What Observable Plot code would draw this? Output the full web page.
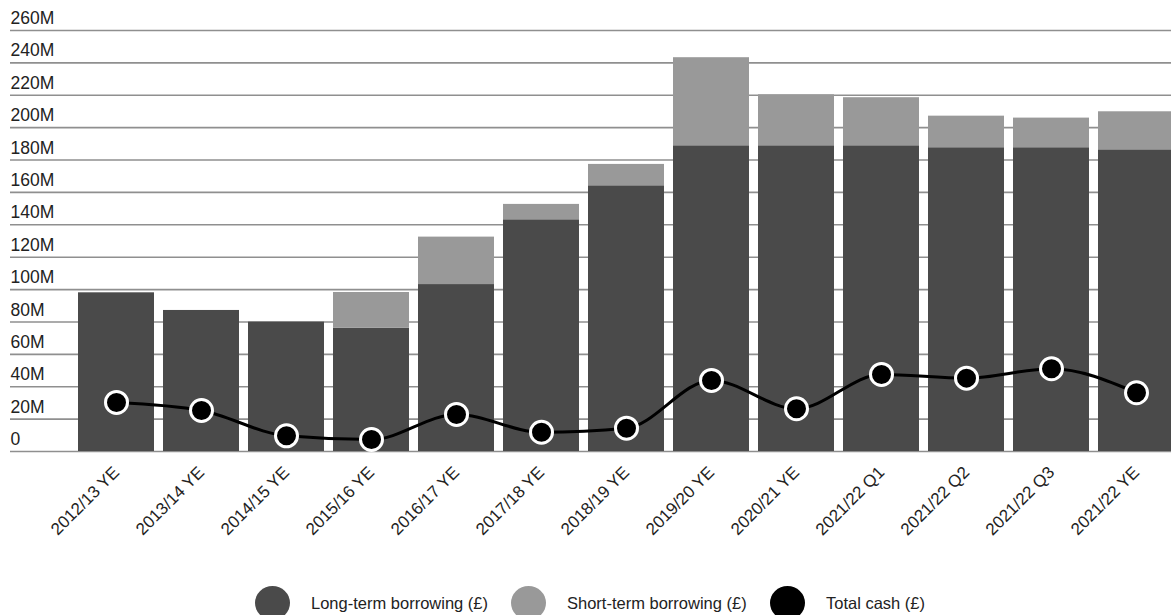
<!DOCTYPE html>
<html>
<head>
<meta charset="utf-8">
<script src="https://cdn.jsdelivr.net/npm/d3@7"></script>
<script src="https://cdn.jsdelivr.net/npm/@observablehq/plot@0.6"></script>
<style>
  html, body { margin: 0; padding: 0; background: #fff; overflow: hidden; width: 1171px; height: 615px; }
  #chart { position: absolute; left: 0; top: 0; }
  #chart svg { overflow: hidden; }
  .legend { position: absolute; top: 586px; left: 0; width: 1171px; height: 34px; font-family: "Liberation Sans", Arial, sans-serif; font-size: 16.5px; color: #222; }
  .item { position: absolute; top: 0; display: flex; align-items: center; height: 34px; }
  .sw { width: 35px; height: 34px; border-radius: 50%; margin-right: 21px; }
</style>
</head>
<body>
<div id="chart"></div>
<div class="legend" id="legend"></div>
<script>
const categories = ["2012/13 YE", "2013/14 YE", "2014/15 YE", "2015/16 YE", "2016/17 YE", "2017/18 YE", "2018/19 YE", "2019/20 YE", "2020/21 YE", "2021/22 Q1", "2021/22 Q2", "2021/22 Q3", "2021/22 YE"];
const longTerm = [98.0, 87.1, 79.9, 76.2, 103.1, 143.1, 164.1, 188.8, 188.8, 188.8, 187.6, 187.6, 186.3];
const shortTerm = [0, 0, 0, 22.0, 29.3, 9.5, 13.2, 54.4, 31.5, 29.7, 19.5, 18.3, 23.5];
const totalCash = [30.3, 25.3, 9.7, 7.4, 22.9, 11.9, 14.4, 43.9, 26.4, 47.6, 45.3, 51.1, 36.3];
const seriesNames = ["Long-term borrowing (£)", "Short-term borrowing (£)", "Total cash (£)"];
const seriesColors = ["#4a4a4a", "#999999", "#000000"];
const yTicks = [0, 20, 40, 60, 80, 100, 120, 140, 160, 180, 200, 220, 240, 260];

const barRows = [];
categories.forEach((c, i) => {
  barRows.push({cat: c, series: seriesNames[0], value: longTerm[i]});
  barRows.push({cat: c, series: seriesNames[1], value: shortTerm[i]});
});
const cashRows = categories.map((c, i) => ({cat: c, value: totalCash[i]}));

const marginLeft = 72.8;
const plot = Plot.plot({
  width: 1171,
  height: 570,
  marginLeft: marginLeft,
  marginRight: -7.6,
  marginTop: 30,
  marginBottom: 119,
  style: {fontFamily: "'Liberation Sans', Arial, sans-serif", fontSize: "17px", color: "#222", background: "#fff"},
  x: {domain: categories, paddingInner: 0.107, paddingOuter: 0.0535, axis: null},
  y: {domain: [0, 260], axis: null},
  color: {domain: seriesNames, range: seriesColors},
  marks: [
    Plot.ruleY(yTicks, {y: d => d, stroke: "#8f8f8f", strokeWidth: 1.6, insetLeft: -(marginLeft - 10)}),
    Plot.text(yTicks, {y: d => d, text: d => d === 0 ? "0" : d + "M", frameAnchor: "left", textAnchor: "start", dx: -(marginLeft - 10), dy: -12, fill: "#222", fontSize: 17.5}),
    Plot.barY(barRows, {x: "cat", y: "value", fill: "series"}),
    Plot.line(cashRows, {x: "cat", y: "value", stroke: "#000", strokeWidth: 3, curve: "monotone-x"}),
    Plot.dot(cashRows, {x: "cat", y: "value", r: 11, fill: "#000", stroke: "#fff", strokeWidth: 3}),
    Plot.axisX({tickRotate: -45, tickSize: 0, tickPadding: 10, fontSize: 17, fill: "#222", dx: 0, dy: 8, label: null})
  ]
});
document.getElementById("chart").appendChild(plot);

const legend = document.getElementById("legend");
const lefts = [255, 511, 770];
seriesNames.forEach((name, i) => {
  const it = document.createElement("div");
  it.className = "item";
  it.style.left = lefts[i] + "px";
  const sw = document.createElement("div");
  sw.className = "sw";
  sw.style.background = seriesColors[i];
  const tx = document.createElement("span");
  tx.textContent = name;
  it.appendChild(sw);
  it.appendChild(tx);
  legend.appendChild(it);
});
</script>
</body>
</html>
